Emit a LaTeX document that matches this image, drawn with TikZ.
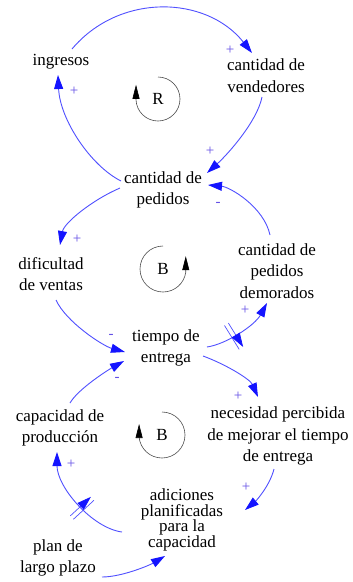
\documentclass[tikz,border=0pt]{standalone}
\usepackage{fontspec}
\setmainfont{Liberation Serif}
\usetikzlibrary{arrows.meta,decorations.markings}
\definecolor{lnkcol}{RGB}{80,80,255}
\definecolor{tipcol}{RGB}{20,20,255}
\definecolor{signcol}{RGB}{100,80,230}
\begin{document}
\begin{tikzpicture}[x=1pt,y=-1pt,
  var/.style={align=center,font=\fontsize{17}{21.7}\selectfont,inner sep=0pt},
  link/.style={draw=lnkcol,line width=0.9pt,-{Triangle[length=14pt,width=9pt,color=tipcol]}},
  sgn/.style={text=signcol,font=\fontsize{15}{15}\selectfont,inner sep=0pt},
  loopc/.style={draw=black!70,line width=0.6pt,-{Triangle[length=14pt,width=7pt,color=black]}},
  hashmark/.style={decoration={markings,mark=at position #1 with {\draw[lnkcol,line width=0.7pt] (-2.3,-14)--(-2.3,14) (2.3,-14)--(2.3,14);}},postaction=decorate}
]
\useasboundingbox (0,0) rectangle (353,582);
\fill[white] (0,0) rectangle (353,582);

% variables
\node[var] (ing) at (61,62) {ingresos};
\node[var] (cv) at (266,76) {cantidad de\\vendedores};
\node[var] (cp) at (163,190) {cantidad de\\pedidos};
\node[var] (dv) at (51,274) {dificultad\\de ventas};
\node[var] (cpd) at (277,271) {cantidad de\\pedidos\\demorados};
\node[var] (te) at (166,348) {tiempo de\\entrega};
\node[var] (cap) at (60,428) {capacidad de\\producción};
\node[var] (nec) at (278,436) {necesidad percibida\\de mejorar el tiempo\\de entrega};
\node[var,font=\fontsize{17}{15.7}\selectfont] (adi) at (182,520) {adiciones\\planificadas\\para la\\capacidad};
\node[var] (plan) at (58,558) {plan de\\largo plazo};

% loop markers
\node[var] (R) at (158,99) {R};
\draw[loopc] ([shift={(-90:22)}]R.center) arc[start angle=-90,end angle=178,radius=22] -- ++(0,-15);
\node[var] (B1) at (163,269) {B};
\draw[loopc] ([shift={(-90:23)}]B1.center) arc[start angle=-90,end angle=-352,radius=23] -- ++(0,-16);
\node[var] (B2) at (162,435) {B};
\draw[loopc] ([shift={(-90:23)}]B2.center) arc[start angle=-90,end angle=175,radius=23] -- ++(0,-13);

% links
\draw[link] ([shift={(11,-13)}]ing.center) .. controls +(47,-56) and +(-46,-58) .. ([shift={(-14,-23)}]cv.center);
\draw[link] ([shift={(-4,21)}]cv.center) .. controls +(-5,25) and +(20,-18) .. ([shift={(44,-17)}]cp.center);
\draw[link] ([shift={(-42,-9)}]cp.center) .. controls +(-30,-15) and +(2,45) .. ([shift={(-3,13)}]ing.center);
\draw[link] ([shift={(-43,-2)}]cp.center) .. controls +(-28,12) and +(4,-22) .. ([shift={(9,-29)}]dv.center);
\draw[link] ([shift={(-7,-36)}]cpd.center) .. controls +(-6,-28) and +(22,2) .. ([shift={(45,-5)}]cp.center);
\draw[link] ([shift={(5,26)}]dv.center) .. controls +(10,22) and +(-22,-6) .. ([shift={(-41,4)}]te.center);
\draw[link,hashmark=0.38] ([shift={(41,-1)}]te.center) .. controls +(20,-3) and +(-12,22) .. ([shift={(-10,32)}]cpd.center);
\draw[link] ([shift={(37,8)}]te.center) .. controls +(22,8) and +(-8,-18) .. ([shift={(-20,-39)}]nec.center);
\draw[link] ([shift={(10,-25)}]cap.center) .. controls +(8,-14) and +(-16,9) .. ([shift={(-42,13)}]te.center);
\draw[link] ([shift={(-4,33)}]nec.center) .. controls +(-4,16) and +(12,-10) .. ([shift={(63,-10)}]adi.center);
\draw[link,hashmark=0.43] ([shift={(-60,12)}]adi.center) .. controls +(-30,-4) and +(0,35) .. ([shift={(-3,24)}]cap.center);
\draw[link] ([shift={(44,19)}]plan.center) .. controls +(20,0) and +(-15,9) .. ([shift={(-17,36)}]adi.center);

% polarity signs
\node[sgn] (s1) at (230,50) {+};
\node[sgn] (s2) at (210,151) {+};
\node[sgn] (s3) at (74,91) {+};
\node[sgn] (s4) at (77,239) {+};
\node[sgn] (s5) at (218,204) {-};
\node[sgn] (s6) at (111,336) {-};
\node[sgn] (s7) at (245,310) {+};
\node[sgn] (s8) at (238,396) {+};
\node[sgn] (s9) at (117,379) {-};
\node[sgn] (s10) at (246,487) {+};
\node[sgn] (s11) at (71,464) {+};
\end{tikzpicture}
\end{document}
